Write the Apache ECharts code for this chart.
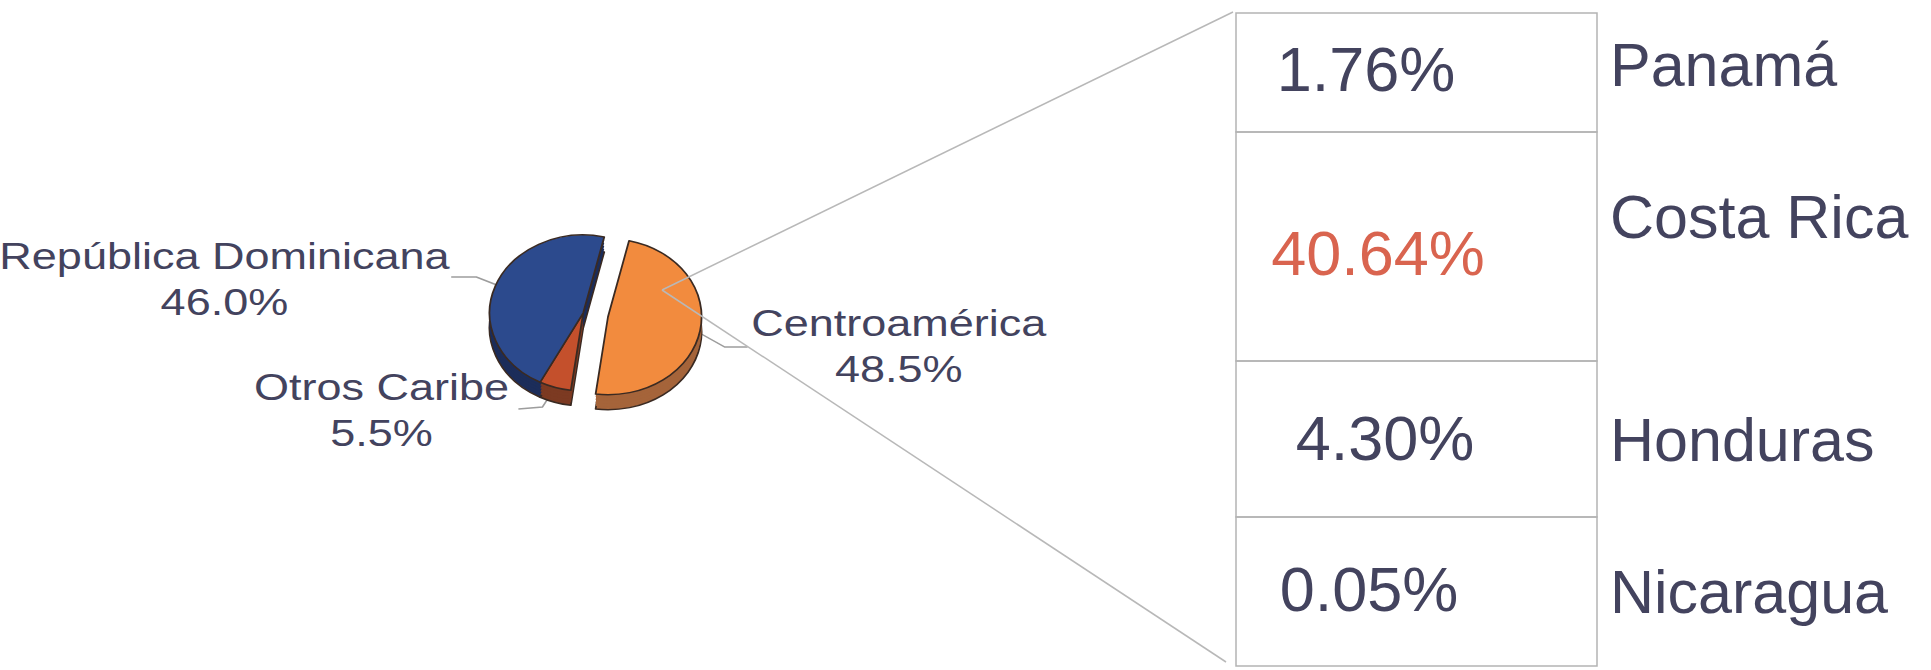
<!DOCTYPE html>
<html>
<head>
<meta charset="utf-8">
<script src="https://cdn.jsdelivr.net/npm/echarts@6/dist/echarts.min.js"></script>
<style>
html, body { margin: 0; padding: 0; background: #ffffff; width: 1931px; height: 670px; overflow: hidden; }
#pie { position: absolute; left: 0; top: 0; width: 900px; height: 670px; transform: scaleX(1.2); transform-origin: 0 0; }
#table { position: absolute; left: 0; top: 0; width: 1931px; height: 670px; }
</style>
</head>
<body>
<div id="pie"></div>
<div id="table"></div>
<script>
// ---------------- data ----------------
const regions = ['Centroamérica', 'Otros Caribe', 'República Dominicana'];
const regionShares = [48.5, 5.5, 46.0];
const explodedRegion = 'Centroamérica';
const countries = ['Panamá', 'Costa Rica', 'Honduras', 'Nicaragua'];
const countryShares = [1.76, 40.64, 4.30, 0.05];
const highlightCountry = 'Costa Rica';

// ---------------- layout / style ----------------
const FONT = '"Liberation Sans", Arial, Helvetica, sans-serif';
const TEXT_COLOR = '#43435e';
const HIGHLIGHT_COLOR = '#d9644f';
const CLEAR = 'rgba(0,0,0,0)';
const pieCenter = [486, 313];
const pieRadius = 78;
const pieStart = 77;          // echarts startAngle (deg, ccw from 3 o'clock)
const explode = 21;
const topColors = ['#f28b3e', '#c4502c', '#2c4a8d'];
const sideColors = ['#a5643a', '#7c3a22', '#1c2d5a'];
const depthShifts = [15, 12, 9, 6, 3];
const labelPos = [[749, 346], [318, 410], [187, 279]];
const leaderPts = [
  [[583, 333], [604, 347], [623, 347]],
  [[458, 396], [452, 407], [432, 409]],
  [[414, 285], [397, 277], [376, 277]]
];

// explode vector from the exploded slice's mid angle
const total = regionShares.reduce((a, b) => a + b, 0);
const exIdx = regions.indexOf(explodedRegion);
const before = regionShares.slice(0, exIdx).reduce((a, b) => a + b, 0);
const midCW = (90 - pieStart) + 360 * (before + regionShares[exIdx] / 2) / total;
const exDx = Math.sin(midCW * Math.PI / 180) * explode;
const exDy = -Math.cos(midCW * Math.PI / 180) * explode;

function pieLayer(shift, colors, exploded, isTop, bordered) {
  const cx = pieCenter[0] + (exploded ? exDx : 0);
  const cy = pieCenter[1] + shift + (exploded ? exDy : 0);
  return {
    type: 'pie',
    center: [cx, cy],
    radius: pieRadius,
    startAngle: pieStart,
    clockwise: true,
    avoidLabelOverlap: false,
    animation: false,
    silent: true,
    emphasis: { disabled: true },
    data: regions.map((n, i) => {
      const visible = (i === exIdx) === exploded;
      return {
        name: n, value: regionShares[i],
        itemStyle: visible
          ? { color: colors[i], borderColor: '#3a2a22', borderWidth: bordered ? 1.5 : 0 }
          : { color: CLEAR, borderWidth: 0 },
        label: { show: isTop && visible },
        labelLine: { show: isTop && visible }
      };
    }),
    label: {
      position: 'outside',
      formatter: p => p.name + '\n' + p.percent.toFixed(1) + '%',
      fontFamily: FONT,
      fontSize: 37.5,
      lineHeight: 46,
      color: TEXT_COLOR,
      align: 'center'
    },
    labelLine: { smooth: false, lineStyle: { color: '#9d9d9d', width: 1.5 } },
    labelLayout: p => ({
      x: labelPos[p.dataIndex][0],
      y: labelPos[p.dataIndex][1],
      align: 'center',
      verticalAlign: 'middle',
      labelLinePoints: leaderPts[p.dataIndex]
    })
  };
}

const pieSeries = [];
depthShifts.forEach((s, k) => {
  pieSeries.push(pieLayer(s, sideColors, false, false, k === 0));
  pieSeries.push(pieLayer(s, sideColors, true, false, k === 0));
});
pieSeries.push(pieLayer(0, topColors, false, true, true));
pieSeries.push(pieLayer(0, topColors, true, true, true));

const pieChart = echarts.init(document.getElementById('pie'), null, { renderer: 'svg' });
pieChart.setOption({ backgroundColor: 'transparent', animation: false, series: pieSeries });

// ---------------- table (breakdown of Centroamérica) ----------------
const tableBox = { left: 1236, top: 13, width: 361, height: 653 };
const rowWeights = [119, 229, 156, 149];
const rowStarts = rowWeights.map((w, i) => rowWeights.slice(0, i).reduce((a, b) => a + b, 0));
const totalWeight = rowWeights.reduce((a, b) => a + b, 0);
const pctCenterX = 142;
const pctDx = [-12, 0, 7, -9];
const pctDy = [-4, 6, -1, -3];
const nameDy = [-8, -30, 1, 0];
const connectorStart = [662, 290];

const tableChart = echarts.init(document.getElementById('table'), null, { renderer: 'svg' });
tableChart.setOption({
  backgroundColor: 'transparent',
  animation: false,
  grid: tableBox,
  xAxis: { type: 'value', min: 0, max: 1, show: false },
  yAxis: { type: 'value', min: 0, max: totalWeight, inverse: true, show: false },
  series: [{
    type: 'custom',
    coordinateSystem: 'cartesian2d',
    clip: false,
    silent: true,
    data: countries.map((c, i) => [i, countryShares[i]]),
    renderItem: (params, api) => {
      const i = api.value(0);
      const p0 = api.coord([0, rowStarts[i]]);
      const p1 = api.coord([1, rowStarts[i] + rowWeights[i]]);
      const cy = (p0[1] + p1[1]) / 2;
      const children = [
        { type: 'rect', shape: { x: p0[0], y: p0[1], width: p1[0] - p0[0], height: p1[1] - p0[1] },
          style: { fill: 'none', stroke: '#b4b4b4', lineWidth: 1.5 } },
        { type: 'text', x: p0[0] + pctCenterX + pctDx[i], y: cy + pctDy[i],
          style: { text: api.value(1).toFixed(2) + '%', fontFamily: FONT, fontSize: 63,
                   fill: countries[i] === highlightCountry ? HIGHLIGHT_COLOR : TEXT_COLOR,
                   align: 'center', verticalAlign: 'middle', textAlign: 'center', textVerticalAlign: 'middle' } },
        { type: 'text', x: p1[0] + 13, y: cy + nameDy[i],
          style: { text: countries[i], fontFamily: FONT, fontSize: 61, fill: TEXT_COLOR,
                   align: 'left', verticalAlign: 'middle', textAlign: 'left', textVerticalAlign: 'middle' } }
      ];
      if (i === 0) {
        const topCorner = api.coord([0, 0]);
        const botCorner = api.coord([0, totalWeight]);
        children.push({ type: 'line', shape: { x1: connectorStart[0], y1: connectorStart[1], x2: topCorner[0] - 3, y2: topCorner[1] - 1 },
          style: { stroke: '#b8b8b8', lineWidth: 1.5 } });
        children.push({ type: 'line', shape: { x1: connectorStart[0], y1: connectorStart[1], x2: botCorner[0] - 10, y2: botCorner[1] - 4 },
          style: { stroke: '#b8b8b8', lineWidth: 1.5 } });
      }
      return { type: 'group', children };
    }
  }]
});
</script>
</body>
</html>
